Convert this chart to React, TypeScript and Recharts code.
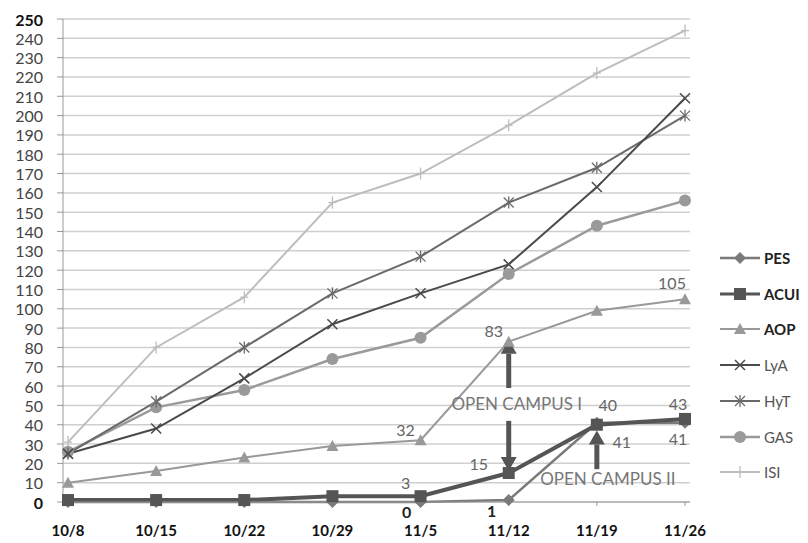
import React from "react";
import {
  CartesianGrid,
  LabelList,
  Line,
  LineChart,
  ReferenceDot,
  ReferenceLine,
  XAxis,
  YAxis,
} from "recharts";

const dates = ["10/8", "10/15", "10/22", "10/29", "11/5", "11/12", "11/19", "11/26"];
const pes = [0, 0, 0, 0, 0, 1, 41, 41];
const acui = [1, 1, 1, 3, 3, 15, 40, 43];
const aop = [10, 16, 23, 29, 32, 83, 99, 105];
const lya = [25, 38, 64, 92, 108, 123, 163, 209];
const hyt = [25, 52, 80, 108, 127, 155, 173, 200];
const gas = [26, 49, 58, 74, 85, 118, 143, 156];
const isi = [31, 80, 106, 155, 170, 195, 222, 244];
const yTicks = [0, 10, 20, 30, 40, 50, 60, 70, 80, 90, 100, 110, 120, 130, 140, 150, 160, 170, 180, 190, 200, 210, 220, 230, 240, 250];

// annotation arrows (category, start value, tip value) and captions
const arrows = [
  { x: "11/12", from: 59, to: 84 },
  { x: "11/12", from: 42, to: 16 },
  { x: "11/19", from: 17, to: 37 },
];
const captions = [
  { x: "11/12", y: 51, text: "OPEN CAMPUS I", dx: 8 },
  { x: "11/19", y: 12, text: "OPEN CAMPUS II", dx: 11 },
];

const data = dates.map((date, i) => ({
  date,
  PES: pes[i],
  ACUI: acui[i],
  AOP: aop[i],
  LyA: lya[i],
  HyT: hyt[i],
  GAS: gas[i],
  ISI: isi[i],
}));

type Marker = "diamond" | "square" | "triangle" | "x" | "star" | "circle" | "plus";

// label offsets: index -> [dx, dy, bold]
const series: {
  key: string;
  color: string;
  width: number;
  marker: Marker;
  bold: boolean;
  labels?: Record<number, [number, number, boolean?]>;
}[] = [
  { key: "PES", color: "#7a7a7a", width: 2.5, marker: "diamond", bold: true,
    labels: { 4: [-14, 9, true], 5: [-17, 10, true], 6: [25, 19], 7: [-7, 16] } },
  { key: "ACUI", color: "#555", width: 4, marker: "square", bold: true,
    labels: { 4: [-15, -14], 5: [-30, -10], 6: [11, -20], 7: [-7, -15] } },
  { key: "AOP", color: "#999", width: 2, marker: "triangle", bold: true,
    labels: { 4: [-15, -11], 5: [-15, -11], 7: [-13, -17] } },
  { key: "LyA", color: "#4a4a4a", width: 2, marker: "x", bold: false },
  { key: "HyT", color: "#6a6a6a", width: 2, marker: "star", bold: false },
  { key: "GAS", color: "#9a9a9a", width: 2.5, marker: "circle", bold: false },
  { key: "ISI", color: "#bdbdbd", width: 2, marker: "plus", bold: false },
];

const drawOrder = ["ISI", "GAS", "HyT", "LyA", "AOP", "PES", "ACUI"];

function marker(kind: Marker, cx: number, cy: number, color: string, key?: string) {
  switch (kind) {
    case "diamond":
      return <polygon key={key} points={`${cx},${cy - 6} ${cx + 6},${cy} ${cx},${cy + 6} ${cx - 6},${cy}`} fill={color} />;
    case "square":
      return <rect key={key} x={cx - 6} y={cy - 6} width={12} height={12} fill={color} />;
    case "triangle":
      return <polygon key={key} points={`${cx},${cy - 6} ${cx + 6},${cy + 5} ${cx - 6},${cy + 5}`} fill={color} />;
    case "x":
      return (
        <g key={key} stroke={color} strokeWidth={1.5}>
          <line x1={cx - 5} y1={cy - 5} x2={cx + 5} y2={cy + 5} />
          <line x1={cx - 5} y1={cy + 5} x2={cx + 5} y2={cy - 5} />
        </g>
      );
    case "star":
      return (
        <g key={key} stroke={color} strokeWidth={1.3}>
          <line x1={cx - 5} y1={cy - 5} x2={cx + 5} y2={cy + 5} />
          <line x1={cx - 5} y1={cy + 5} x2={cx + 5} y2={cy - 5} />
          <line x1={cx} y1={cy - 6} x2={cx} y2={cy + 6} />
        </g>
      );
    case "circle":
      return <circle key={key} cx={cx} cy={cy} r={6} fill={color} />;
    default:
      return (
        <g key={key} stroke={color} strokeWidth={1.3}>
          <line x1={cx} y1={cy - 6} x2={cx} y2={cy + 6} />
          <line x1={cx - 4} y1={cy} x2={cx + 4} y2={cy} />
        </g>
      );
  }
}

const Arrow = (p: any) => {
  const { x1, y1, x2, y2 } = p;
  const dir = y2 < y1 ? 1 : -1;
  const baseY = y2 + dir * 14;
  return (
    <g>
      <line x1={x1} y1={y1} x2={x2} y2={baseY} stroke="#555" strokeWidth={5} />
      <polygon points={`${x2},${y2} ${x2 - 8},${baseY} ${x2 + 8},${baseY}`} fill="#555" />
    </g>
  );
};

const YTick = (p: any) => {
  const v = p.payload.value;
  const strong = v === 0 || v === 250;
  return (
    <text x={p.x} y={p.y} textAnchor="end" dominantBaseline="central" fontSize={16}
      fontWeight={strong ? 700 : 400} fill={strong ? "#111" : "#444"}>
      {v}
    </text>
  );
};

const XTick = (p: any) => (
  <text x={p.x} y={p.y} textAnchor="middle" dominantBaseline="central" fontSize={15} fontWeight={700} fill="#111">
    {p.payload.value}
  </text>
);

export default function App() {
  const font = "Lato, 'Open Sans', sans-serif";
  return (
    <div style={{ position: "absolute", left: 0, top: 0, width: 808, height: 543, background: "#fff", fontFamily: font }}>
      <LineChart width={808} height={543} data={data} margin={{ top: 19, right: 118, bottom: 11, left: 13 }} style={{ fontFamily: font }}>
        <CartesianGrid vertical={false} stroke="#cfcfcf" strokeWidth={1.5} />
        <XAxis dataKey="date" height={30} padding={{ left: 5, right: 5 }} interval={0}
          axisLine={{ stroke: "#999" }} tickLine={{ stroke: "#999" }} tickSize={4} tickMargin={24} tick={<XTick />} />
        <YAxis width={50} domain={[0, 250]} ticks={yTicks} interval={0}
          axisLine={{ stroke: "#999" }} tickLine={{ stroke: "#999" }} tickSize={6} tickMargin={14} tick={<YTick />} />
        {drawOrder.map((k) => {
          const s = series.find((x) => x.key === k)!;
          return (
            <Line key={k} dataKey={k} type="linear" stroke={s.color} strokeWidth={s.width}
              isAnimationActive={false} activeDot={false}
              dot={(p: any) => marker(s.marker, p.cx, p.cy, s.color, `${k}-${p.index}`)}>
              {s.labels && (
                <LabelList dataKey={k} content={(p: any) => {
                  const off = s.labels![p.index];
                  if (!off) return null;
                  return (
                    <text x={p.x + off[0]} y={p.y + off[1]} textAnchor="middle" dominantBaseline="central"
                      fontSize={16} fontWeight={off[2] ? 700 : 400} fill={off[2] ? "#222" : "#666"}>
                      {p.value}
                    </text>
                  );
                }} />
              )}
            </Line>
          );
        })}
        {arrows.map((a, i) => (
          <ReferenceLine key={`a${i}`} segment={[{ x: a.x, y: a.from }, { x: a.x, y: a.to }]} shape={Arrow} />
        ))}
        {captions.map((c, i) => (
          <ReferenceDot key={`c${i}`} x={c.x} y={c.y} r={0}
            shape={(p: any) => (
              <text x={p.cx + c.dx} y={p.cy} textAnchor="middle" dominantBaseline="central" fontSize={17} fill="#777">
                {c.text}
              </text>
            )} />
        ))}
      </LineChart>
      <div style={{ position: "absolute", left: 718, top: 0 }}>
        {series.map((s, i) => (
          <div key={s.key} style={{ position: "absolute", top: 248 + i * 35.7, height: 20, display: "flex", alignItems: "center", whiteSpace: "nowrap" }}>
            <svg width={44} height={20}>
              <line x1={2} y1={10} x2={42} y2={10} stroke={s.color} strokeWidth={Math.min(s.width, 3)} />
              {marker(s.marker, 22, 10, s.color)}
            </svg>
            <span style={{ fontSize: 15, fontWeight: s.bold ? 700 : 400, color: s.bold ? "#222" : "#555", marginLeft: 2 }}>
              {s.key}
            </span>
          </div>
        ))}
      </div>
    </div>
  );
}
